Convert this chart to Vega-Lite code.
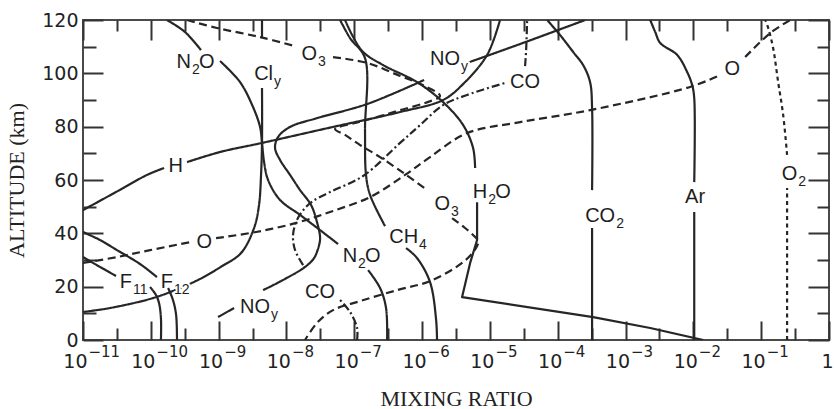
{
  "$schema": "https://vega.github.io/schema/vega-lite/v6.json",
  "width": 746,
  "height": 320,
  "autosize": "none",
  "padding": {"left": 83, "top": 20, "right": 5, "bottom": 69},
  "config": {
    "view": {"stroke": "#4a4a4a", "strokeWidth": 2},
    "axis": {"domain": false, "grid": false}
  },
  "datasets": {
    "lines": [
      {"s":"Ar_a","t":"solid","x":1.03e-2,"y":0},{"s":"Ar_a","t":"solid","x":1.03e-2,"y":48},
      {"s":"Ar_b","t":"solid","x":1.03e-2,"y":59.2},{"s":"Ar_b","t":"solid","x":1.03e-2,"y":90.7},{"s":"Ar_b","t":"solid","x":9.6e-3,"y":95.6},{"s":"Ar_b","t":"solid","x":8.1e-3,"y":100.5},{"s":"Ar_b","t":"solid","x":5.77e-3,"y":106.9},{"s":"Ar_b","t":"solid","x":3.24e-3,"y":111.4},{"s":"Ar_b","t":"solid","x":2.74e-3,"y":115.5},{"s":"Ar_b","t":"solid","x":2.31e-3,"y":120},
      {"s":"CO2_a","t":"solid","x":3.21e-4,"y":0},{"s":"CO2_a","t":"solid","x":3.21e-4,"y":42},
      {"s":"CO2_b","t":"solid","x":3.21e-4,"y":56.2},{"s":"CO2_b","t":"solid","x":3.21e-4,"y":87},{"s":"CO2_b","t":"solid","x":3.0e-4,"y":96.7},{"s":"CO2_b","t":"solid","x":2.37e-4,"y":103.1},{"s":"CO2_b","t":"solid","x":1.69e-4,"y":108},{"s":"CO2_b","t":"solid","x":1.08e-4,"y":114.4},{"s":"CO2_b","t":"solid","x":6.98e-5,"y":120},
      {"s":"O2_a","t":"dot","x":0.241,"y":0},{"s":"O2_a","t":"dot","x":0.241,"y":57},
      {"s":"O2_b","t":"dot","x":0.241,"y":69.4},{"s":"O2_b","t":"dot","x":0.211,"y":84.4},{"s":"O2_b","t":"dot","x":0.178,"y":96.7},{"s":"O2_b","t":"dot","x":0.15,"y":109.5},{"s":"O2_b","t":"dot","x":0.127,"y":117},{"s":"O2_b","t":"dot","x":0.115,"y":120},
      {"s":"H2O_a","t":"solid","x":1.4e-2,"y":0},{"s":"H2O_a","t":"solid","x":2.31e-3,"y":4.5},{"s":"H2O_a","t":"solid","x":3.33e-4,"y":8.6},{"s":"H2O_a","t":"solid","x":3.89e-6,"y":16.1},{"s":"H2O_a","t":"solid","x":5.11e-6,"y":28.9},{"s":"H2O_a","t":"solid","x":6.47e-6,"y":37.5},{"s":"H2O_a","t":"solid","x":6.47e-6,"y":51.7},
      {"s":"H2O_b","t":"solid","x":6.05e-6,"y":64.5},{"s":"H2O_b","t":"solid","x":5.65e-6,"y":72},{"s":"H2O_b","t":"solid","x":4.03e-6,"y":80.6},{"s":"H2O_b","t":"solid","x":2.04e-6,"y":89.2},{"s":"H2O_b","t":"solid","x":8.43e-7,"y":96.7},{"s":"H2O_b","t":"solid","x":2.66e-7,"y":103.1},{"s":"H2O_b","t":"solid","x":1.35e-7,"y":108},{"s":"H2O_b","t":"solid","x":9.29e-8,"y":114.4},{"s":"H2O_b","t":"solid","x":7.31e-8,"y":120},
      {"s":"CH4_a","t":"solid","x":1.66e-6,"y":0},{"s":"CH4_a","t":"solid","x":1.61e-6,"y":7.5},{"s":"CH4_a","t":"solid","x":1.31e-6,"y":21.7},{"s":"CH4_a","t":"solid","x":8.43e-7,"y":30.7},{"s":"CH4_a","t":"solid","x":5.81e-7,"y":34.5},
      {"s":"CH4_b","t":"solid","x":2.84e-7,"y":42.7},{"s":"CH4_b","t":"solid","x":1.71e-7,"y":54.4},{"s":"CH4_b","t":"solid","x":1.49e-7,"y":61.9},{"s":"CH4_b","t":"solid","x":1.44e-7,"y":78.7},{"s":"CH4_b","t":"solid","x":1.44e-7,"y":105.7},{"s":"CH4_b","t":"solid","x":8.67e-8,"y":113.2},{"s":"CH4_b","t":"solid","x":6.18e-8,"y":120},
      {"s":"N2O_a","t":"solid","x":1.73e-10,"y":120},{"s":"N2O_a","t":"solid","x":3.19e-10,"y":115.5},{"s":"N2O_a","t":"solid","x":5.49e-10,"y":108.7},
      {"s":"N2O_b","t":"solid","x":1.05e-9,"y":104.6},{"s":"N2O_b","t":"solid","x":2.07e-9,"y":96.7},{"s":"N2O_b","t":"solid","x":3.21e-9,"y":87.4},{"s":"N2O_b","t":"solid","x":4.08e-9,"y":79.9},{"s":"N2O_b","t":"solid","x":4.36e-9,"y":73.9},{"s":"N2O_b","t":"solid","x":4.68e-9,"y":66.7},{"s":"N2O_b","t":"solid","x":5.36e-9,"y":60},{"s":"N2O_b","t":"solid","x":8.05e-9,"y":52.5},{"s":"N2O_b","t":"solid","x":1.59e-8,"y":46.9},{"s":"N2O_b","t":"solid","x":3.13e-8,"y":41.2},{"s":"N2O_b","t":"solid","x":5.77e-8,"y":36},
      {"s":"N2O_c","t":"solid","x":1.6e-7,"y":26.2},{"s":"N2O_c","t":"solid","x":2.4e-7,"y":19.5},{"s":"N2O_c","t":"solid","x":2.94e-7,"y":12},{"s":"N2O_c","t":"solid","x":3.05e-7,"y":0},
      {"s":"Cly_a","t":"solid","x":4.36e-9,"y":120},{"s":"Cly_a","t":"solid","x":4.36e-9,"y":113.6},
      {"s":"Cly_b","t":"solid","x":4.36e-9,"y":94.5},{"s":"Cly_b","t":"solid","x":4.36e-9,"y":73.9},{"s":"Cly_b","t":"solid","x":4.22e-9,"y":61.9},{"s":"Cly_b","t":"solid","x":3.94e-9,"y":50.6},{"s":"Cly_b","t":"solid","x":3.33e-9,"y":42},{"s":"Cly_b","t":"solid","x":2.14e-9,"y":32.6},{"s":"Cly_b","t":"solid","x":1.12e-9,"y":27.7},{"s":"Cly_b","t":"solid","x":5.32e-10,"y":22.9},{"s":"Cly_b","t":"solid","x":2.28e-10,"y":18.7},{"s":"Cly_b","t":"solid","x":9.73e-11,"y":15.4},{"s":"Cly_b","t":"solid","x":2.5e-11,"y":12},{"s":"Cly_b","t":"solid","x":1e-11,"y":10.5},
      {"s":"F11_a","t":"solid","x":1e-11,"y":31.1},{"s":"F11_a","t":"solid","x":1.78e-11,"y":27.4},{"s":"F11_a","t":"solid","x":3.07e-11,"y":24},
      {"s":"F11_b","t":"solid","x":9.73e-11,"y":19.9},{"s":"F11_b","t":"solid","x":1.19e-10,"y":16.9},{"s":"F11_b","t":"solid","x":1.32e-10,"y":13.9},{"s":"F11_b","t":"solid","x":1.41e-10,"y":8.2},{"s":"F11_b","t":"solid","x":1.41e-10,"y":0},
      {"s":"F12_a","t":"solid","x":1e-11,"y":40.5},{"s":"F12_a","t":"solid","x":1.78e-11,"y":37.5},{"s":"F12_a","t":"solid","x":3.17e-11,"y":33.7},{"s":"F12_a","t":"solid","x":6.93e-11,"y":28.5},{"s":"F12_a","t":"solid","x":1.23e-10,"y":23.6},
      {"s":"F12_b","t":"solid","x":1.8e-10,"y":19.5},{"s":"F12_b","t":"solid","x":2.12e-10,"y":15},{"s":"F12_b","t":"solid","x":2.36e-10,"y":9.4},{"s":"F12_b","t":"solid","x":2.43e-10,"y":0},
      {"s":"NOy_a","t":"solid","x":9.8e-10,"y":8.6},{"s":"NOy_a","t":"solid","x":1.69e-9,"y":12},
      {"s":"NOy_b","t":"solid","x":4.52e-9,"y":18.7},{"s":"NOy_b","t":"solid","x":9.53e-9,"y":22.9},{"s":"NOy_b","t":"solid","x":1.88e-8,"y":27.4},{"s":"NOy_b","t":"solid","x":2.55e-8,"y":30.7},{"s":"NOy_b","t":"solid","x":3.03e-8,"y":35.6},{"s":"NOy_b","t":"solid","x":3.13e-8,"y":38.6},{"s":"NOy_b","t":"solid","x":2.82e-8,"y":44.2},{"s":"NOy_b","t":"solid","x":2.31e-8,"y":50.6},{"s":"NOy_b","t":"solid","x":1.59e-8,"y":56.2},{"s":"NOy_b","t":"solid","x":1.13e-8,"y":61.9},{"s":"NOy_b","t":"solid","x":8.05e-9,"y":67.5},{"s":"NOy_b","t":"solid","x":6.79e-9,"y":72},{"s":"NOy_b","t":"solid","x":7.51e-9,"y":76.1},{"s":"NOy_b","t":"solid","x":1.13e-8,"y":79.9},{"s":"NOy_b","t":"solid","x":2.82e-8,"y":83.2},{"s":"NOy_b","t":"solid","x":1.55e-7,"y":88.5},{"s":"NOy_b","t":"solid","x":1.07e-6,"y":97.5},
      {"s":"NOy_c","t":"solid","x":4.61e-6,"y":103.9},{"s":"NOy_c","t":"solid","x":2.79e-5,"y":111},{"s":"NOy_c","t":"solid","x":2.54e-4,"y":120},
      {"s":"CO_a","t":"dashdot","x":1.1e-7,"y":0},{"s":"CO_a","t":"dashdot","x":1.1e-7,"y":4.5},{"s":"CO_a","t":"dashdot","x":8.67e-8,"y":10.5},{"s":"CO_a","t":"dashdot","x":6.18e-8,"y":15},
      {"s":"CO_b","t":"dashdot","x":1.76e-8,"y":28.1},{"s":"CO_b","t":"dashdot","x":1.34e-8,"y":33.7},{"s":"CO_b","t":"dashdot","x":1.25e-8,"y":39.4},{"s":"CO_b","t":"dashdot","x":1.43e-8,"y":45},{"s":"CO_b","t":"dashdot","x":1.88e-8,"y":49.5},{"s":"CO_b","t":"dashdot","x":2.47e-8,"y":52.1},{"s":"CO_b","t":"dashdot","x":4.4e-8,"y":55.5},{"s":"CO_b","t":"dashdot","x":1.35e-7,"y":61.5},{"s":"CO_b","t":"dashdot","x":4.74e-7,"y":73.9},{"s":"CO_b","t":"dashdot","x":9.35e-7,"y":80.6},{"s":"CO_b","t":"dashdot","x":2.04e-6,"y":88.1},{"s":"CO_b","t":"dashdot","x":4.61e-6,"y":91.9},{"s":"CO_b","t":"dashdot","x":1.67e-5,"y":96.4},
      {"s":"CO_c","t":"dashdot","x":3.3e-5,"y":102.7},{"s":"CO_c","t":"dashdot","x":3.42e-5,"y":108.7},{"s":"CO_c","t":"dashdot","x":3.54e-5,"y":120},
      {"s":"O3_a","t":"dash","x":3.42e-10,"y":120},{"s":"O3_a","t":"dash","x":9.46e-10,"y":117},{"s":"O3_a","t":"dash","x":4.08e-9,"y":113.6},{"s":"O3_a","t":"dash","x":1.34e-8,"y":110.2},
      {"s":"O3_b","t":"dash","x":4.86e-8,"y":106.1},{"s":"O3_b","t":"dash","x":1.55e-7,"y":103.9},{"s":"O3_b","t":"dash","x":4.74e-7,"y":99},{"s":"O3_b","t":"dash","x":1.11e-6,"y":95.2},{"s":"O3_b","t":"dash","x":1.84e-6,"y":91.5},{"s":"O3_b","t":"dash","x":1.11e-6,"y":88.9},{"s":"O3_b","t":"dash","x":4.74e-7,"y":86.2},{"s":"O3_b","t":"dash","x":2.17e-7,"y":83.6},{"s":"O3_b","t":"dash","x":1.03e-7,"y":81.4},{"s":"O3_b","t":"dash","x":5.21e-8,"y":79.1},{"s":"O3_b","t":"dash","x":7.31e-8,"y":76.9},{"s":"O3_b","t":"dash","x":1.22e-7,"y":73.1},{"s":"O3_b","t":"dash","x":2.4e-7,"y":68.6},{"s":"O3_b","t":"dash","x":5.61e-7,"y":62.2},{"s":"O3_b","t":"dash","x":1.19e-6,"y":56.2},
      {"s":"O3_c","t":"dash","x":2.77e-6,"y":45.7},{"s":"O3_c","t":"dash","x":4.3e-6,"y":42},{"s":"O3_c","t":"dash","x":5.85e-6,"y":39},{"s":"O3_c","t":"dash","x":6.7e-6,"y":37.1},{"s":"O3_c","t":"dash","x":6.25e-6,"y":34.5},{"s":"O3_c","t":"dash","x":4.03e-6,"y":29.2},{"s":"O3_c","t":"dash","x":1.31e-6,"y":22.1},{"s":"O3_c","t":"dash","x":4.28e-7,"y":18.7},{"s":"O3_c","t":"dash","x":1.22e-7,"y":14.6},{"s":"O3_c","t":"dash","x":4.86e-8,"y":11.2},{"s":"O3_c","t":"dash","x":2.82e-8,"y":6.4},{"s":"O3_c","t":"dash","x":1.88e-8,"y":0},
      {"s":"O_a","t":"dash","x":1e-11,"y":28.9},{"s":"O_a","t":"dash","x":3.17e-11,"y":31.1},{"s":"O_a","t":"dash","x":9.73e-11,"y":33.7},{"s":"O_a","t":"dash","x":3.79e-10,"y":36.7},
      {"s":"O_b","t":"dash","x":9.16e-10,"y":38.2},{"s":"O_b","t":"dash","x":3.56e-9,"y":40.5},{"s":"O_b","t":"dash","x":1.39e-8,"y":43.9},{"s":"O_b","t":"dash","x":4.86e-8,"y":48.4},{"s":"O_b","t":"dash","x":1.71e-7,"y":53.6},{"s":"O_b","t":"dash","x":5.61e-7,"y":61.9},{"s":"O_b","t":"dash","x":1.31e-6,"y":68.6},{"s":"O_b","t":"dash","x":4.61e-6,"y":77.6},{"s":"O_b","t":"dash","x":2.79e-5,"y":81.7},{"s":"O_b","t":"dash","x":3e-4,"y":86.2},{"s":"O_b","t":"dash","x":8.97e-3,"y":94.9},{"s":"O_b","t":"dash","x":2.32e-2,"y":99},
      {"s":"O_c","t":"dash","x":5.81e-2,"y":106.1},{"s":"O_c","t":"dash","x":0.136,"y":115.1},{"s":"O_c","t":"dash","x":0.268,"y":120},
      {"s":"H_a","t":"solid","x":1e-11,"y":48.7},{"s":"H_a","t":"solid","x":3.07e-11,"y":55.5},{"s":"H_a","t":"solid","x":8.79e-11,"y":61.9},{"s":"H_a","t":"solid","x":1.57e-10,"y":64.5},
      {"s":"H_b","t":"solid","x":3.42e-10,"y":66.7},{"s":"H_b","t":"solid","x":1.05e-9,"y":70.5},{"s":"H_b","t":"solid","x":4.36e-9,"y":73.9},{"s":"H_b","t":"solid","x":4.86e-8,"y":79.9},{"s":"H_b","t":"solid","x":4.74e-7,"y":85.5},{"s":"H_b","t":"solid","x":2.04e-6,"y":90},{"s":"H_b","t":"solid","x":4.03e-6,"y":96},{"s":"H_b","t":"solid","x":9.1e-6,"y":106.9},{"s":"H_b","t":"solid","x":1.41e-5,"y":120}
    ],
    "labels": [
      {"pre":"N","sub":"2","post":"O","x":3.92e-10,"y":102.0},
      {"pre":"Cl","sub":"y","post":"","x":6.34e-9,"y":97.5},
      {"pre":"O","sub":"3","post":"","x":2.82e-8,"y":105.0},
      {"pre":"NO","sub":"y","post":"","x":3.63e-6,"y":103.1},
      {"pre":"CO","sub":"","post":"","x":5.5e-5,"y":94.5},
      {"pre":"O","sub":"","post":"","x":4.9e-2,"y":99.4},
      {"pre":"O","sub":"2","post":"","x":0.34,"y":60.0},
      {"pre":"Ar","sub":"","post":"","x":1.49e-2,"y":51.4},
      {"pre":"CO","sub":"2","post":"","x":7.03e-4,"y":44.2},
      {"pre":"H","sub":"2","post":"O","x":9.1e-6,"y":53.2},
      {"pre":"O","sub":"3","post":"","x":2.59e-6,"y":48.7},
      {"pre":"CH","sub":"4","post":"","x":8.73e-7,"y":36.4},
      {"pre":"N","sub":"2","post":"O","x":1.1e-7,"y":29.2},
      {"pre":"CO","sub":"","post":"","x":5.21e-8,"y":15.7},
      {"pre":"NO","sub":"y","post":"","x":5.73e-9,"y":10.1},
      {"pre":"F","sub":"11","post":"","x":5.29e-11,"y":19.5},
      {"pre":"F","sub":"12","post":"","x":2.12e-10,"y":19.5},
      {"pre":"O","sub":"","post":"","x":8.0e-10,"y":34.5},
      {"pre":"H","sub":"","post":"","x":2.99e-10,"y":63.0}
    ]
  },
  "resolve": {"axis": {"x": "independent", "y": "independent"}},
  "layer": [
    {
      "data": {"name": "lines"},
      "transform": [{"filter": "datum.s != 'H2O_a'"}],
      "mark": {"type": "line", "color": "#262626", "strokeWidth": 2.2, "interpolate": "catmull-rom", "clip": true, "strokeCap": "butt"},
      "encoding": {
        "x": {
          "field": "x", "type": "quantitative",
          "scale": {"type": "log", "domain": [1e-11, 1], "nice": false},
          "axis": {
            "orient": "bottom",
            "values": [1e-11,3.1623e-11,1e-10,3.1623e-10,1e-9,3.1623e-9,1e-8,3.1623e-8,1e-7,3.1623e-7,1e-6,3.1623e-6,1e-5,3.1623e-5,1e-4,3.1623e-4,1e-3,3.1623e-3,1e-2,3.1623e-2,0.1,0.31623,1],
            "tickColor": "#333", "tickWidth": 2,
            "tickSize": {"condition": {"test": "abs(log(datum.value)/LN10 - round(log(datum.value)/LN10)) < 0.1", "value": -19}, "value": -12},
            "labelExpr": "(abs(log(datum.value)/LN10 - round(log(datum.value)/LN10)) > 0.1) ? '' : (round(log(datum.value)/LN10) == 0 ? '1' : '10')",
            "labelFont": "DejaVu Sans", "labelFontSize": 19, "labelColor": "#222",
            "labelAlign": "right", "labelOffset": 4,
            "labelPadding": 31, "labelFlush": false, "labelOverlap": false, "labelBound": false,
            "title": "MIXING RATIO", "titleFont": "Liberation Serif", "titleFontSize": 22, "titleFontWeight": "normal", "titleColor": "#222", "titlePadding": 10
          }
        },
        "y": {
          "field": "y", "type": "quantitative",
          "scale": {"domain": [0, 120], "nice": false, "zero": false},
          "axis": {
            "orient": "left",
            "values": [0,10,20,30,40,50,60,70,80,90,100,110,120],
            "tickColor": "#333", "tickWidth": 2,
            "tickSize": {"condition": {"test": "datum.value % 20 == 0", "value": -20}, "value": -13},
            "labelExpr": "datum.value % 20 == 0 ? datum.label : ''",
            "labelFont": "DejaVu Sans", "labelFontSize": 19, "labelColor": "#222",
            "labelPadding": 25, "labelFlush": false, "labelOverlap": false, "labelBound": false,
            "title": "ALTITUDE (km)", "titleFont": "Liberation Serif", "titleFontSize": 22, "titleFontWeight": "normal", "titleColor": "#222", "titlePadding": 13
          }
        },
        "detail": {"field": "s"},
        "strokeDash": {
          "field": "t", "type": "nominal",
          "scale": {"domain": ["solid", "dash", "dot", "dashdot"], "range": [[1, 0], [8, 4.5], [4, 3.5], [8, 3, 2, 3]]},
          "legend": null
        },
        "order": {"value": null}
      }
    },
    {
      "data": {"name": "lines"},
      "transform": [{"filter": "datum.s == 'H2O_a'"}],
      "mark": {"type": "line", "color": "#262626", "strokeWidth": 2.2, "interpolate": "linear", "clip": true, "strokeCap": "butt", "strokeJoin": "round"},
      "encoding": {
        "x": {"field": "x", "type": "quantitative", "axis": null},
        "y": {"field": "y", "type": "quantitative", "axis": null},
        "detail": {"field": "s"},
        "order": {"value": null}
      }
    },
    {
      "data": {"name": "labels"},
      "mark": {"type": "text", "font": "Liberation Sans", "fontSize": 20, "align": "right", "baseline": "alphabetic", "stroke": "white", "strokeWidth": 5, "strokeJoin": "round", "fill": "white"},
      "encoding": {
        "x": {"field": "x", "type": "quantitative", "axis": null},
        "y": {"field": "y", "type": "quantitative", "axis": null},
        "text": {"field": "pre"}
      }
    },
    {
      "data": {"name": "labels"},
      "mark": {"type": "text", "font": "Liberation Sans", "fontSize": 14, "align": "left", "baseline": "alphabetic", "dx": 1, "dy": 6, "stroke": "white", "strokeWidth": 4, "strokeJoin": "round", "fill": "white"},
      "encoding": {
        "x": {
          "field": "x", "type": "quantitative",
          "axis": {
            "orient": "bottom",
            "values": [1e-11,1e-10,1e-9,1e-8,1e-7,1e-6,1e-5,1e-4,1e-3,1e-2,0.1],
            "ticks": false,
            "labelExpr": "'−' + abs(round(log(datum.value)/LN10))",
            "labelFont": "DejaVu Sans", "labelFontSize": 15, "labelColor": "#222",
            "labelAlign": "left", "labelOffset": 5,
            "labelPadding": 4, "labelFlush": false, "labelOverlap": false, "labelBound": false,
            "title": null
          }
        },
        "y": {"field": "y", "type": "quantitative", "axis": null},
        "text": {"field": "sub"}
      }
    },
    {
      "data": {"name": "labels"},
      "mark": {"type": "text", "font": "Liberation Sans", "fontSize": 20, "align": "left", "baseline": "alphabetic", "dx": 8, "stroke": "white", "strokeWidth": 5, "strokeJoin": "round", "fill": "white"},
      "encoding": {
        "x": {"field": "x", "type": "quantitative", "axis": null},
        "y": {"field": "y", "type": "quantitative", "axis": null},
        "text": {"field": "post"}
      }
    },
    {
      "data": {"name": "labels"},
      "mark": {"type": "text", "font": "Liberation Sans", "fontSize": 20, "align": "right", "baseline": "alphabetic", "color": "#1e1e1e"},
      "encoding": {
        "x": {
          "field": "x", "type": "quantitative",
          "axis": {
            "orient": "top",
            "values": [1e-11,3.1623e-11,1e-10,3.1623e-10,1e-9,3.1623e-9,1e-8,3.1623e-8,1e-7,3.1623e-7,1e-6,3.1623e-6,1e-5,3.1623e-5,1e-4,3.1623e-4,1e-3,3.1623e-3,1e-2,3.1623e-2,0.1,0.31623,1],
            "tickColor": "#333", "tickWidth": 2,
            "tickSize": {"condition": {"test": "abs(log(datum.value)/LN10 - round(log(datum.value)/LN10)) < 0.1", "value": -20}, "value": -11},
            "labels": false, "title": null
          }
        },
        "y": {
          "field": "y", "type": "quantitative",
          "axis": {
            "orient": "right",
            "values": [0,10,20,30,40,50,60,70,80,90,100,110,120],
            "tickColor": "#333", "tickWidth": 2,
            "tickSize": {"condition": {"test": "datum.value % 20 == 0", "value": -21}, "value": -12},
            "labels": false, "title": null
          }
        },
        "text": {"field": "pre"}
      }
    },
    {
      "data": {"name": "labels"},
      "mark": {"type": "text", "font": "Liberation Sans", "fontSize": 14, "align": "left", "baseline": "alphabetic", "dx": 1, "dy": 6, "color": "#1e1e1e"},
      "encoding": {
        "x": {"field": "x", "type": "quantitative", "axis": null},
        "y": {"field": "y", "type": "quantitative", "axis": null},
        "text": {"field": "sub"}
      }
    },
    {
      "data": {"name": "labels"},
      "mark": {"type": "text", "font": "Liberation Sans", "fontSize": 20, "align": "left", "baseline": "alphabetic", "dx": 8, "color": "#1e1e1e"},
      "encoding": {
        "x": {"field": "x", "type": "quantitative", "axis": null},
        "y": {"field": "y", "type": "quantitative", "axis": null},
        "text": {"field": "post"}
      }
    }
  ]
}
